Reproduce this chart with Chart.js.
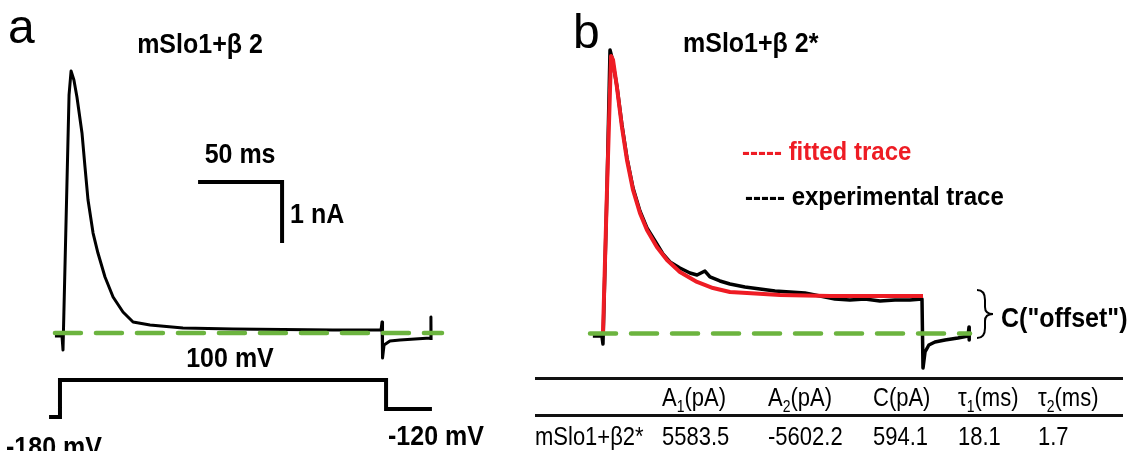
<!DOCTYPE html>
<html><head><meta charset="utf-8">
<script src="https://cdn.jsdelivr.net/npm/chart.js@4/dist/chart.umd.min.js"></script>
<style>html,body{margin:0;padding:0;background:#fff;overflow:hidden}#wrap{position:relative;width:1133px;height:451px}canvas{display:block}</style>
</head><body><div id="wrap"><canvas id="c" width="1133" height="451"></canvas></div>
<script>
// ---------- Panel a : mSlo1+β 2 (time in ms, current in pA) ----------
const traceA_ms = [-4.8, -0.6, 0, 3.6, 4.8, 6.5, 8.3, 11.3, 13.1, 14.9, 17.9, 20.8, 25.0, 29.8, 35.7, 41.7, 51.8, 71.4, 101.2, 160.7, 189.3, 189.9, 190.2, 191.1, 194.6, 200.6, 209.5, 218.5, 219.0, 219.1];
const traceA_pA = [-49, -49, -279, 3902, 4295, 4148, 3869, 3279, 2721, 2180, 1639, 1311, 918, 590, 344, 180, 131, 82, 66, 49, 49, 180, -410, -197, -131, -115, -98, -82, 262, -115];
const protocol_ms = [-8.3, -1.8, -1.8, 192.3, 192.3, 219.6];
const protocol_mV = [-180, -180, 100, 100, -120, -120];
const scaleBar_ms = [80.4, 130.4, 130.4];   // 50 ms
const scaleBar_pA = [2475, 2475, 1475];     // 1 nA
const baselineA_ms = [-4.8, 225.6];
const baselineA_pA = [0, 0];

// ---------- Panel b : mSlo1+β 2* ----------
const expB_ms = [-6.0, -0.6, 0, 2.4, 4.2, 5.4, 8.3, 11.3, 14.3, 17.9, 22.0, 26.2, 32.1, 35.7, 39.9, 45.8, 51.8, 56.0, 60.7, 63.7, 69.6, 75.6, 84.5, 93.5, 102.4, 111.3, 120.2, 129.2, 138.1, 147.0, 155.9, 164.9, 173.8, 182.7, 189.9, 190.5, 191.7, 194.0, 197.6, 203.6, 211.3, 217.3, 217.9, 218.0];
const expB_pA = [-40, -40, -169, 2303, 4551, 4422, 3973, 3347, 2817, 2335, 1966, 1693, 1437, 1276, 1148, 1051, 971, 939, 1003, 907, 843, 795, 746, 714, 682, 666, 650, 602, 554, 538, 554, 522, 538, 538, 554, -554, -297, -185, -136, -104, -72, -40, 104, -104];
const fitB_ms = [0, 2.4, 4.8, 6.0, 8.3, 11.3, 14.3, 17.9, 22.0, 26.2, 32.1, 38.1, 45.8, 56.0, 65.5, 75.6, 85.7, 105.4, 135.1, 190.5];
const fitB_pA = [-8, 2303, 4454, 4390, 3957, 3315, 2785, 2303, 1934, 1661, 1388, 1180, 987, 827, 730, 666, 650, 618, 602, 602];
const baselineB_ms = [-7.7, 218.5];
const baselineB_pA = [0, 0];

// ---------- Fit table ----------
const tableHeader = [["A", "1", "(pA)"], ["A", "2", "(pA)"], ["C", "", "(pA)"], ["τ", "1", "(ms)"], ["τ", "2", "(ms)"]];
const tableRowLabel = "mSlo1+β2*";
const tableRowValues = ["5583.5", "-5602.2", "594.1", "18.1", "1.7"];

const legendLabels = ["----- fitted trace", "----- experimental trace"];
const panelTitles = ["mSlo1+β 2", "mSlo1+β 2*"];

function pts(xs, ys) { return xs.map((x, i) => ({x: x, y: ys[i]})); }

const GREEN = '#6cb43f', RED = '#ee1c24';
const FONT = '"Liberation Sans", Arial, sans-serif';

const annot = {
  id: 'annot',
  afterDatasetsDraw(chart) {
    const ctx = chart.ctx;
    function T(s, x, y, o) {
      ctx.save();
      ctx.font = o.font; ctx.fillStyle = o.color || '#000';
      ctx.textAlign = o.align || 'left'; ctx.textBaseline = 'alphabetic';
      ctx.translate(x, y); ctx.scale(o.sx || 1, o.sy || 1);
      ctx.fillText(s, 0, 0); ctx.restore();
    }
    const B = 'bold 25px ' + FONT, SY = 1.08;
    // panel letters
    T('a', 8, 43, {font: '48px ' + FONT});
    T('b', 573, 48, {font: '48px ' + FONT});
    // titles
    T(panelTitles[0], 200, 53, {font: B, align: 'center', sy: SY});
    T(panelTitles[1], 683, 52, {font: B, sy: SY});
    // panel a labels
    const xA = chart.scales.xA, yA = chart.scales.yA;
    T('50 ms', xA.getPixelForValue(105.4), yA.getPixelForValue(2475) - 19, {font: B, align: 'center', sy: SY});
    T('1 nA', xA.getPixelForValue(130.4) + 8, 223, {font: B, sy: SY});
    T('100 mV', 230, 367, {font: B, align: 'center', sy: SY});
    T('-180 mV', 6, 456, {font: B, sy: SY});
    T('-120 mV', 388, 445, {font: B, sy: SY});
    // legend panel b
    T(legendLabels[0], 742, 160, {font: 'bold 24px ' + FONT, color: RED, sy: 1.1});
    T(legendLabels[1], 745, 205, {font: 'bold 24px ' + FONT, color: '#000', sy: 1.1});
    // brace
    ctx.save();
    ctx.strokeStyle = '#000'; ctx.lineWidth = 2;
    ctx.beginPath();
    ctx.moveTo(977, 290);
    ctx.quadraticCurveTo(985, 290, 985, 300);
    ctx.lineTo(985, 307);
    ctx.quadraticCurveTo(985, 314, 993, 314);
    ctx.quadraticCurveTo(985, 314, 985, 321);
    ctx.lineTo(985, 328);
    ctx.quadraticCurveTo(985, 338, 977, 338);
    ctx.stroke();
    ctx.restore();
    T('C("offset")', 1001, 327, {font: B, sy: 1.12});
    // table
    ctx.save();
    ctx.fillStyle = '#111';
    ctx.fillRect(535, 377, 588, 3);
    ctx.fillRect(535, 414, 588, 3);
    ctx.restore();
    const colX = [662, 768, 873, 958, 1038];
    const TF = '22px ' + FONT, TSY = 1.16;
    tableHeader.forEach((h, i) => {
      ctx.save(); ctx.font = TF;
      let x = colX[i];
      T(h[0], x, 406, {font: TF, sy: TSY});
      x += ctx.measureText(h[0]).width;
      if (h[1]) { T(h[1], x, 412, {font: '14px ' + FONT, sy: TSY}); ctx.font = '14px ' + FONT; x += ctx.measureText(h[1]).width; }
      T(h[2], x, 406, {font: TF, sy: TSY});
      ctx.restore();
    });
    T(tableRowLabel, 535, 445, {font: TF, sy: TSY});
    tableRowValues.forEach((v, i) => T(v, colX[i], 445, {font: TF, sy: TSY}));
  }
};

new Chart(document.getElementById('c'), {
  type: 'line',
  data: {
    datasets: [
      {data: pts(baselineA_ms, baselineA_pA), xAxisID: 'xA', yAxisID: 'yA', borderColor: GREEN, borderWidth: 4.5, borderDash: [26, 15], borderCapStyle: 'round', order: 0},
      {data: pts(traceA_ms, traceA_pA), xAxisID: 'xA', yAxisID: 'yA', borderColor: '#000', borderWidth: 3, borderJoinStyle: 'round', order: 3},
      {data: pts(protocol_ms, protocol_mV), xAxisID: 'xA', yAxisID: 'vA', borderColor: '#000', borderWidth: 4, borderJoinStyle: 'miter', order: 3},
      {data: pts(scaleBar_ms, scaleBar_pA), xAxisID: 'xA', yAxisID: 'yA', borderColor: '#000', borderWidth: 4, borderJoinStyle: 'miter', order: 3},
      {data: pts(baselineB_ms, baselineB_pA), xAxisID: 'xB', yAxisID: 'yB', borderColor: GREEN, borderWidth: 4.5, borderDash: [26, 15], borderCapStyle: 'round', order: 0},
      {data: pts(fitB_ms, fitB_pA), xAxisID: 'xB', yAxisID: 'yB', borderColor: RED, borderWidth: 4, borderJoinStyle: 'round', order: 1},
      {data: pts(expB_ms, expB_pA), xAxisID: 'xB', yAxisID: 'yB', borderColor: '#000', borderWidth: 3.5, borderJoinStyle: 'round', order: 2}
    ]
  },
  options: {
    responsive: false, animation: false, devicePixelRatio: 1, events: [],
    layout: {padding: 0},
    plugins: {legend: {display: false}, tooltip: {enabled: false}, title: {display: false}},
    elements: {point: {radius: 0}, line: {tension: 0, fill: false}},
    scales: {
      xA: {type: 'linear', axis: 'x', display: false, min: -37.5, max: 636.9},
      yA: {type: 'linear', axis: 'y', display: false, min: -1934.4, max: 5459},
      vA: {type: 'linear', axis: 'y', display: false, min: -437.9, max: 2978.8},
      xB: {type: 'linear', axis: 'x', display: false, min: -358.9, max: 315.5},
      yB: {type: 'linear', axis: 'y', display: false, min: -1886, max: 5353}
    }
  },
  plugins: [annot]
});
</script>
</body></html>
